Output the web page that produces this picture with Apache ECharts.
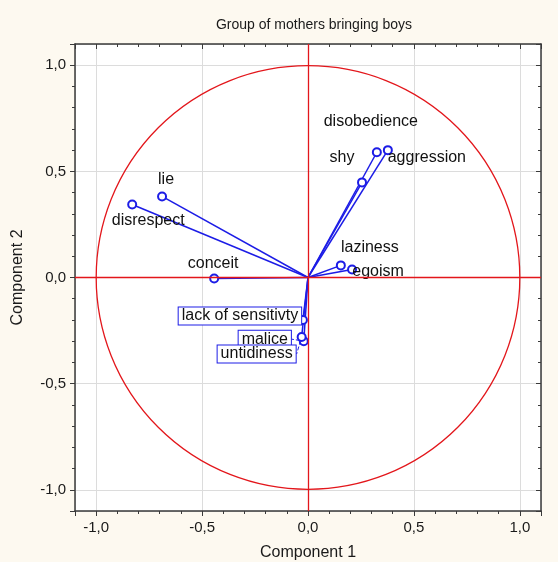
<!DOCTYPE html>
<html>
<head>
<meta charset="utf-8">
<script src="https://cdn.jsdelivr.net/npm/echarts@6/dist/echarts.min.js"></script>
<style>
html, body { margin: 0; padding: 0; background: #fdf9f0; }
#loadings { width: 558px; height: 562px; }
</style>
</head>
<body>
<div id="loadings"></div>
<script>
var variables = ['disobedience', 'shy', 'aggression', 'lie', 'disrespect', 'conceit',
    'laziness', 'egoism', 'lack of sensitivty', 'malice', 'untidiness'];
var component1 = [0.325, 0.255, 0.377, -0.689, -0.83, -0.443, 0.155, 0.208, -0.024, -0.02, -0.03];
var component2 = [0.59, 0.448, 0.60, 0.382, 0.344, -0.005, 0.057, 0.038, -0.2, -0.30, -0.28];
var boxed = ['lack of sensitivty', 'malice', 'untidiness'];

// where each label sits relative to its point (px)
var labelShift = {
    'disobedience': [-6, -31],
    'shy': [-20, -25],
    'aggression': [39, 7],
    'lie': [4, -17],
    'disrespect': [16, 16],
    'conceit': [-1, -15],
    'laziness': [29, -18],
    'egoism': [26, 2],
    'lack of sensitivty': [-63, -4],
    'malice': [-39, -2],
    'untidiness': [-45, 17]
};

var blue = '#1c1ce6';
var red = '#e3161b';
var font = 'Liberation Sans, Arial, sans-serif';

var loadingsChart = echarts.init(document.getElementById('loadings'));

function commaLabel(v) {
    if (Math.abs(v) > 1.05) return '';
    return v.toFixed(1).replace('.', ',');
}

function valueAxis(pos, main) {
    return {
        type: 'value',
        position: pos,
        min: -1.1,
        max: 1.1,
        splitNumber: 4,
        axisLine: { show: true, onZero: false, lineStyle: { color: '#3a3a3a', width: 1.5 } },
        axisTick: { show: true, inside: !main, length: 5, lineStyle: { color: '#3a3a3a' } },
        minorTick: { show: true, splitNumber: 5, length: 3, lineStyle: { color: '#3a3a3a' } },
        axisLabel: { show: main, formatter: commaLabel, color: '#1a1a1a', fontSize: 15, fontFamily: font, margin: 9 },
        splitLine: { show: main, lineStyle: { color: '#dcdcdc', width: 1 } },
        minorSplitLine: { show: false }
    };
}

var xMain = valueAxis('bottom', true);
xMain.name = 'Component 1';
xMain.nameLocation = 'middle';
xMain.nameGap = 34;
xMain.nameTextStyle = { color: '#1a1a1a', fontSize: 16, fontFamily: font };
var yMain = valueAxis('left', true);
yMain.name = 'Component 2';
yMain.nameLocation = 'middle';
yMain.nameGap = 49;
yMain.nameTextStyle = { color: '#1a1a1a', fontSize: 16, fontFamily: font };

var points = variables.map(function(name, i) {
    var isBoxed = boxed.indexOf(name) >= 0;
    var item = { name: name, value: [component1[i], component2[i]] };
    if (isBoxed) {
        item.label = {
            backgroundColor: '#fff',
            borderColor: blue,
            borderWidth: 1,
            padding: [1, 3, 0, 3]
        };
        item.labelLine = { show: true, lineStyle: { color: blue, type: 'dashed', width: 1 } };
    }
    return item;
});

var vectors = variables.map(function(name, i) {
    return { coords: [[0, 0], [component1[i], component2[i]]] };
});

option_loadings = {
    backgroundColor: '#fdf9f0',
    textStyle: { fontFamily: font },
    title: {
        text: 'Group of mothers bringing boys',
        left: 309,
        top: 13,
        textAlign: 'center',
        textStyle: { fontSize: 14, fontWeight: 'normal', color: '#1a1a1a', fontFamily: font }
    },
    grid: {
        left: 75, right: 17, top: 44, bottom: 51,
        outerBoundsMode: 'none',
        show: true, backgroundColor: '#fff', borderWidth: 0
    },
    xAxis: [xMain, valueAxis('top', false)],
    yAxis: [yMain, valueAxis('right', false)],
    series: [{
        type: 'lines',
        coordinateSystem: 'cartesian2d',
        data: vectors,
        lineStyle: { color: blue, width: 1.5, opacity: 1 },
        silent: true,
        z: 3
    }, {
        type: 'scatter',
        data: points,
        symbol: 'emptyCircle',
        symbolSize: 8,
        itemStyle: { color: blue, borderColor: blue, borderWidth: 1.1, opacity: 1 },
        label: {
            show: true,
            position: 'inside',
            formatter: '{b}',
            color: '#111',
            fontSize: 16,
            fontFamily: font
        },
        labelLine: { show: false },
        labelLayout: function(params) {
            var s = labelShift[variables[params.dataIndex]];
            return { dx: s[0], dy: s[1] };
        },
        markLine: {
            silent: true,
            symbol: 'none',
            label: { show: false },
            lineStyle: { color: red, type: 'solid', width: 1.3, opacity: 1 },
            data: [{ xAxis: 0 }, { yAxis: 0 }]
        },
        z: 4
    }]
};
loadingsChart.setOption(option_loadings);

// unit circle, placed through the axes scales
function drawCircle() {
    var c = loadingsChart.convertToPixel({ gridIndex: 0 }, [0, 0]);
    var e = loadingsChart.convertToPixel({ gridIndex: 0 }, [1, 0]);
    loadingsChart.setOption({
        graphic: [{
            type: 'circle',
            z: 1,
            silent: true,
            shape: { cx: c[0], cy: c[1], r: e[0] - c[0] },
            style: { fill: 'none', stroke: red, lineWidth: 1.3 }
        }]
    });
}
drawCircle();

window.addEventListener('resize', function() {
    loadingsChart.resize();
    drawCircle();
});
</script>
</body>
</html>
